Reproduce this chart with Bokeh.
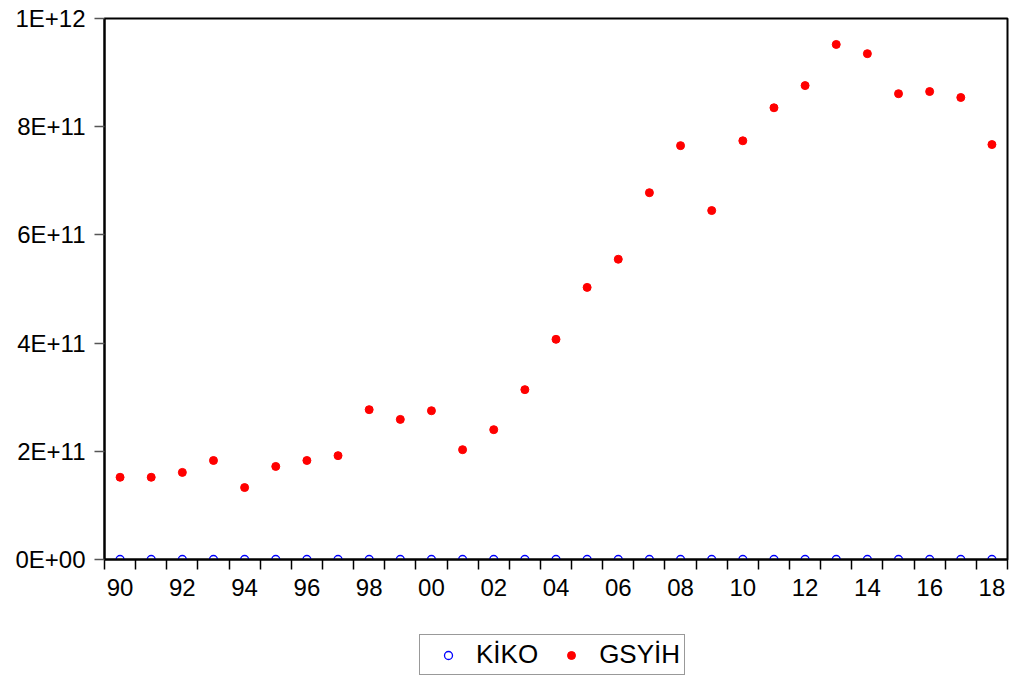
from bokeh.plotting import figure
from bokeh.layouts import column
from bokeh.models import Range1d, FixedTicker, Legend, LegendItem
from bokeh.embed import file_html
from bokeh.resources import INLINE

years = list(range(1990, 2019))
gsyih = [1.52e11, 1.52e11, 1.61e11, 1.83e11, 1.33e11, 1.72e11, 1.83e11, 1.92e11,
         2.77e11, 2.59e11, 2.75e11, 2.03e11, 2.40e11, 3.14e11, 4.07e11, 5.03e11,
         5.55e11, 6.78e11, 7.65e11, 6.45e11, 7.74e11, 8.35e11, 8.76e11, 9.52e11,
         9.35e11, 8.61e11, 8.65e11, 8.54e11, 7.67e11]
kiko = [0, 0, 0, 0, 0, 0, 0, 0, 0, 0, 0, 0, 0, 0, 0,
        0, 0, 0, 0, 0, 0, 0, 0, 0, 0, 0, 0, 0, 0]
x_tick_labels = ["90", "", "92", "", "94", "", "96", "", "98", "", "00", "", "02", "",
                 "04", "", "06", "", "08", "", "10", "", "12", "", "14", "", "16", "", "18"]
y_ticks = [0, 2e11, 4e11, 6e11, 8e11, 1e12]
y_tick_labels = ["0E+00", "2E+11", "4E+11", "6E+11", "8E+11", "1E+12"]
series_names = ["KİKO", "GSYİH"]

FONT = "Liberation Sans"

p = figure(width=1011, height=618, output_backend="svg", toolbar_location=None,
           x_range=Range1d(1989.5, 2018.5), y_range=Range1d(0, 1e12),
           min_border_left=104, min_border_top=18, min_border_right=4,
           min_border_bottom=59, background_fill_color="white",
           border_fill_color="white")
p.grid.visible = False
p.outline_line_color = "black"
p.outline_line_width = 2
p.outline_line_alpha = 1

KIKO_STYLE = dict(marker="circle", size=8, fill_color=None, line_color="blue", line_width=1.3)
GSYIH_STYLE = dict(marker="circle", size=8, fill_color="red", line_color="red", line_width=1)

p.scatter(years, kiko, **KIKO_STYLE)
p.scatter(years, gsyih, **GSYIH_STYLE)

# x axis
p.xaxis.ticker = FixedTicker(ticks=years, minor_ticks=[y - 0.5 for y in years] + [years[-1] + 0.5])
p.xaxis.major_label_overrides = {y: lab for y, lab in zip(years, x_tick_labels)}
p.xaxis.major_tick_line_color = None
p.xaxis.major_tick_out = 10
p.xaxis.major_tick_in = 0
p.xaxis.minor_tick_out = 10
p.xaxis.minor_tick_in = 0
p.xaxis.minor_tick_line_color = "black"
p.xaxis.minor_tick_line_width = 1.5
p.xaxis.axis_line_color = "black"
p.xaxis.axis_line_width = 2
p.xaxis.major_label_standoff = 9
p.xaxis.major_label_text_font = FONT
p.xaxis.major_label_text_font_size = "24px"
p.xaxis.major_label_text_color = "black"

# y axis
p.yaxis.ticker = FixedTicker(ticks=y_ticks, minor_ticks=[])
p.yaxis.major_label_overrides = {t: lab for t, lab in zip(y_ticks, y_tick_labels)}
p.yaxis.major_tick_out = 10
p.yaxis.major_tick_in = 0
p.yaxis.major_tick_line_color = "#555555"
p.yaxis.major_tick_line_width = 1.5
p.yaxis.minor_tick_line_color = None
p.yaxis.axis_line_color = "black"
p.yaxis.axis_line_width = 2
p.yaxis.major_label_standoff = 9
p.yaxis.major_label_text_font = FONT
p.yaxis.major_label_text_font_size = "24px"
p.yaxis.major_label_text_color = "black"

# legend strip below the chart (proxy renderers lie outside its visible range)
lg = figure(width=1011, height=59, output_backend="svg", toolbar_location=None,
            x_range=Range1d(0, 1), y_range=Range1d(0, 1),
            x_axis_type=None, y_axis_type=None,
            min_border_left=0, min_border_right=0, min_border_top=0, min_border_bottom=0,
            background_fill_color="white", border_fill_color="white")
lg.grid.visible = False
lg.outline_line_color = None
lk = lg.scatter(x=years[:1], y=[-5], **KIKO_STYLE)
lgs = lg.scatter(x=years[:1], y=[-5], **GSYIH_STYLE)

legend = Legend(items=[LegendItem(label=series_names[0], renderers=[lk]),
                       LegendItem(label=series_names[1], renderers=[lgs])],
                location=(315, 2), orientation="horizontal", margin=0,
                border_line_color="#333333", border_line_width=1.5,
                padding=4, glyph_width=48, glyph_height=20,
                label_standoff=4, spacing=9,
                label_text_font=FONT, label_text_font_size="26px",
                label_text_color="black", background_fill_color="white",
                background_fill_alpha=1)
lg.add_layout(legend)

open("out.html", "w").write(file_html(column(p, lg, spacing=0), INLINE))
